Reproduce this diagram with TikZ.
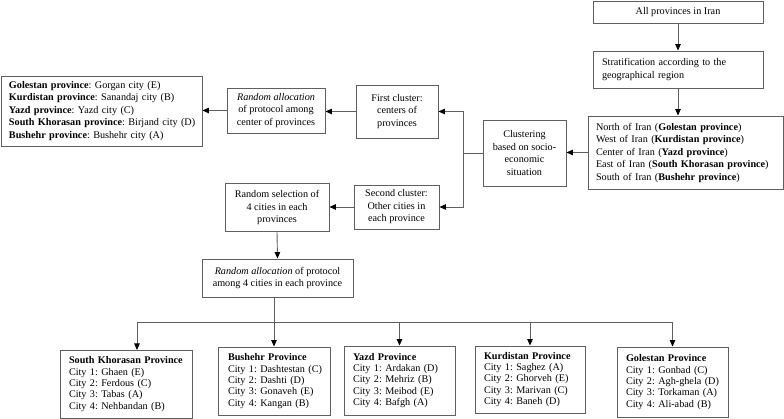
\documentclass[tikz,border=0pt]{standalone}
\usepackage{fontspec}
\setmainfont{Liberation Serif}
\usetikzlibrary{arrows.meta}
\definecolor{lgray}{RGB}{95,95,95}
\begin{document}
\begin{tikzpicture}[x=1pt,y=-1pt,
  box/.style={draw=lgray, line width=0.9pt, inner sep=0pt, font=\frenchspacing\fontsize{10.2}{12.5}\selectfont},
  cbox/.style={box, align=center},
  lbox/.style={box, align=left},
  pbox/.style={box, align=left, font=\frenchspacing\fontsize{10.2}{11.4}\selectfont},
  conn/.style={draw=lgray, line width=0.9pt},
  arr/.style={conn, -{Triangle[length=6.5pt,width=5.5pt,color=black]}}
]
\useasboundingbox (0,0) rectangle (784,419);
% top chain
\node[cbox, minimum width=170pt, minimum height=22pt] (all) at (678,12) {All provinces in Iran};
\node[lbox, text width=152pt, inner xsep=9pt, minimum height=37pt] (strat) at (678,69.5) {Stratification according to the\\geographical region};
\node[lbox, text width=179pt, inner xsep=8pt, minimum height=73pt] (reg) at (685.5,152.5) {\mbox{North of Iran (\textbf{Golestan province})}\\\mbox{West of Iran (\textbf{Kurdistan province})}\\\mbox{Center of Iran (\textbf{Yazd province})}\\\mbox{East of Iran (\textbf{South Khorasan province})}\\\mbox{South of Iran (\textbf{Bushehr province})}};
\node[cbox, minimum width=83pt, minimum height=66pt] (clu) at (524.5,153) {Clustering\\based on socio-\\economic\\situation};
\node[cbox, minimum width=82pt, minimum height=53pt] (first) at (397,111.5) {First cluster:\\centers of\\provinces};
\node[cbox, minimum width=85pt, minimum height=44pt] (second) at (396.5,207) {Second cluster:\\Other cities in\\each province};
\node[cbox, minimum width=104pt, minimum height=48pt] (sel) at (277,207.5) {Random selection of\\4 cities in each\\provinces};
\node[cbox, minimum width=151pt, minimum height=38pt, font=\frenchspacing\fontsize{10.2}{11.7}\selectfont] (alloc2) at (277.5,278) {\textit{Random allocation} of protocol\\among 4 cities in each province};
\node[cbox, minimum width=98pt, minimum height=45pt] (alloc1) at (276,110.5) {\textit{Random allocation}\\of protocol among\\center of provinces};
\node[lbox, text width=185pt, inner xsep=8pt, minimum height=70pt] (cent) at (101.5,111) {\mbox{\textbf{Golestan province}: Gorgan city (E)}\\\mbox{\textbf{Kurdistan province}: Sanandaj city (B)}\\\mbox{\textbf{Yazd province}: Yazd city (C)}\\\mbox{\textbf{South Khorasan province}: Birjand city (D)}\\\mbox{\textbf{Bushehr province}: Bushehr city (A)}};
% bottom boxes
\node[pbox, text width=114pt, inner xsep=9pt, minimum height=68pt] (sk) at (126,384) {\mbox{\textbf{South Khorasan Province}}\\City 1: Ghaen (E)\\City 2: Ferdous (C)\\City 3: Tabas (A)\\City 4: Nehbandan (B)};
\node[pbox, text width=92pt, inner xsep=10pt, minimum height=68pt] (bush) at (274,381) {\mbox{\textbf{Bushehr Province}}\\\mbox{City 1: Dashtestan (C)}\\City 2: Dashti (D)\\City 3: Gonaveh (E)\\City 4: Kangan (B)};
\node[pbox, text width=93pt, inner xsep=9pt, minimum height=69pt] (yazd) at (399.5,380.5) {\mbox{\textbf{Yazd Province}}\\\mbox{City 1: Ardakan (D)}\\City 2: Mehriz (B)\\City 3: Meibod (E)\\City 4: Bafgh (A)};
\node[pbox, text width=92pt, inner xsep=9pt, minimum height=67pt] (kurd) at (530,379.5) {\mbox{\textbf{Kurdistan Province}}\\\mbox{City 1: Saghez (A)}\\City 2: Ghorveh (E)\\City 3: Marivan (C)\\City 4: Baneh (D)};
\node[pbox, text width=93pt, inner xsep=9pt, minimum height=70pt] (gol) at (672.5,382) {\mbox{\textbf{Golestan Province}}\\City 1: Gonbad (C)\\\mbox{City 2: Agh-ghela (D)}\\\mbox{City 3: Torkaman (A)}\\City 4: Ali-abad (B)};
% connectors
\draw[arr] (all.south) -- (strat.north);
\draw[arr] (strat.south) -- (strat.south |- reg.north);
\draw[arr] (reg.west) -- (reg.west -| clu.east);
\coordinate (br) at (463,153);
\draw[conn] (clu.west) -- (br);
\draw[arr] (br) |- (first.east);
\draw[arr] (br) |- (second.east);
\draw[arr] (first.west) -- (first.west -| alloc1.east);
\draw[arr] (alloc1.west) -- (alloc1.west -| cent.east);
\draw[arr] (second.west) -- (second.west -| sel.east);
\draw[arr] (sel.south) -- (alloc2.north);
\coordinate (bar) at (0,322);
\coordinate (skt) at (137,350);
\draw[arr] (alloc2.south -| bush.north) -- (bush.north);
\draw[conn] (skt |- bar) -- (gol.north |- bar);
\draw[arr] (skt |- bar) -- (skt);
\draw[arr] (yazd.north |- bar) -- (yazd.north);
\draw[arr] (kurd.north |- bar) -- (kurd.north);
\draw[arr] (gol.north |- bar) -- (gol.north);
\end{tikzpicture}
\end{document}
